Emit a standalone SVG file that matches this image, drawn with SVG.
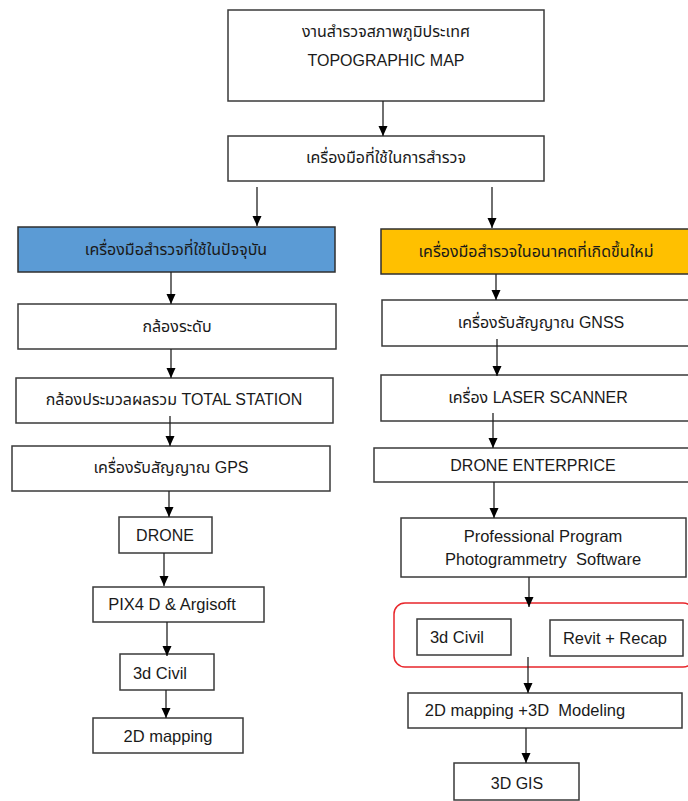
<svg xmlns="http://www.w3.org/2000/svg" width="688" height="801" viewBox="0 0 688 801">
<defs>
<marker id="arr" markerUnits="userSpaceOnUse" markerWidth="10" markerHeight="10" viewBox="0 0 10 10" refX="10" refY="5" orient="auto">
<path d="M0,0.5 L10,5 L0,9.5 Z" fill="#000"/>
</marker>
<style>
.box{fill:#fff;stroke:#3a3a3a;stroke-width:1.5}
.t{font-family:"Liberation Sans","Noto Sans Thai","Noto Sans",sans-serif;font-size:16px;fill:#1a1a1a;text-anchor:middle;dominant-baseline:central}
.l{font-size:16.5px}
.c line{stroke:#222;stroke-width:1.3;marker-end:url(#arr)}
</style>
</defs>
<rect x="0" y="0" width="688" height="801" fill="#fff"/>

<g id="n-top">
<rect class="box" x="228" y="10" width="316" height="91"/>
<text class="t" x="386" y="31">งานสำรวจสภาพภูมิประเทศ</text>
<text class="t" x="386" y="60">TOPOGRAPHIC MAP</text>
</g>
<g id="n-tools">
<rect class="box" x="228" y="136" width="316" height="45"/>
<text class="t" x="386" y="157">เครื่องมือที่ใช้ในการสำรวจ</text>
</g>
<g id="n-current">
<rect x="18" y="227" width="317" height="45" fill="#5b9bd5" stroke="#2f2f2f" stroke-width="1.5"/>
<text class="t" x="176" y="249">เครื่องมือสำรวจที่ใช้ในปัจจุบัน</text>
</g>
<g id="n-future">
<rect x="381" y="229" width="312" height="45" fill="#ffc000" stroke="#2f2f2f" stroke-width="1.5"/>
<text class="t" x="536" y="251">เครื่องมือสำรวจในอนาคตที่เกิดขึ้นใหม่</text>
</g>

<g id="n-level">
<rect class="box" x="18" y="304" width="318" height="45"/>
<text class="t" x="177" y="326">กล้องระดับ</text>
</g>
<g id="n-total">
<rect class="box" x="16" y="378" width="317" height="45"/>
<text class="t" x="174" y="399">กล้องประมวลผลรวม TOTAL STATION</text>
</g>
<g id="n-gps">
<rect class="box" x="12" y="446" width="318" height="45"/>
<text class="t" x="171" y="467">เครื่องรับสัญญาณ GPS</text>
</g>
<g id="n-drone">
<rect class="box" x="119" y="517" width="93" height="36"/>
<text class="t" x="165" y="535">DRONE</text>
</g>
<g id="n-pix4d">
<rect class="box" x="93" y="587" width="171" height="35"/>
<text class="t l" x="172" y="604">PIX4 D &amp; Argisoft</text>
</g>
<g id="n-civil-l">
<rect class="box" x="120" y="654" width="94" height="36"/>
<text class="t l" x="160" y="673">3d Civil</text>
</g>
<g id="n-2d">
<rect class="box" x="93" y="718" width="150" height="35"/>
<text class="t l" x="168" y="736">2D mapping</text>
</g>

<g id="n-gnss">
<rect class="box" x="382" y="300" width="312" height="46"/>
<text class="t" x="541" y="322">เครื่องรับสัญญาณ GNSS</text>
</g>
<g id="n-laser">
<rect class="box" x="381" y="375" width="312" height="46"/>
<text class="t" x="538" y="397">เครื่อง LASER SCANNER</text>
</g>
<g id="n-droneent">
<rect class="box" x="374" y="448" width="318" height="34"/>
<text class="t" x="533" y="465">DRONE ENTERPRICE</text>
</g>
<g id="n-prof">
<rect class="box" x="401" y="518" width="285" height="59"/>
<text class="t l" x="543" y="536">Professional Program</text>
<text class="t l" x="543" y="559" xml:space="preserve">Photogrammetry  Software</text>
</g>
<g id="n-group">
<rect x="394" y="603" width="300" height="64" rx="11" fill="none" stroke="#e8262b" stroke-width="1.5"/>
</g>
<g id="n-civil-r">
<rect class="box" x="417" y="619" width="94" height="36"/>
<text class="t l" x="457" y="637">3d Civil</text>
</g>
<g id="n-revit">
<rect class="box" x="550" y="620" width="133" height="36"/>
<text class="t l" x="615" y="638">Revit + Recap</text>
</g>
<g id="n-2d3d">
<rect class="box" x="408" y="693" width="274" height="35"/>
<text class="t l" x="525" y="710" xml:space="preserve">2D mapping +3D  Modeling</text>
</g>
<g id="n-gis">
<rect class="box" x="454" y="763" width="125" height="37"/>
<text class="t" x="517" y="783">3D GIS</text>
</g>

<g id="connectors" class="c">
<line x1="383" y1="101" x2="383" y2="136"/>
<line x1="257" y1="187" x2="257" y2="226"/>
<line x1="492" y1="187" x2="492" y2="228"/>
<line x1="171" y1="272" x2="171" y2="304"/>
<line x1="171" y1="349" x2="171" y2="378"/>
<line x1="170" y1="416" x2="170" y2="446"/>
<line x1="169" y1="491" x2="169" y2="517"/>
<line x1="164" y1="553" x2="164" y2="586"/>
<line x1="167" y1="622" x2="167" y2="656"/>
<line x1="166" y1="690" x2="166" y2="718"/>
<line x1="496" y1="274" x2="496" y2="300"/>
<line x1="497" y1="339" x2="497" y2="376"/>
<line x1="493" y1="413" x2="493" y2="448"/>
<line x1="494" y1="482" x2="494" y2="518"/>
<line x1="529" y1="577" x2="529" y2="607"/>
<line x1="528" y1="657" x2="528" y2="693"/>
<line x1="526" y1="728" x2="526" y2="763"/>
</g>
</svg>
